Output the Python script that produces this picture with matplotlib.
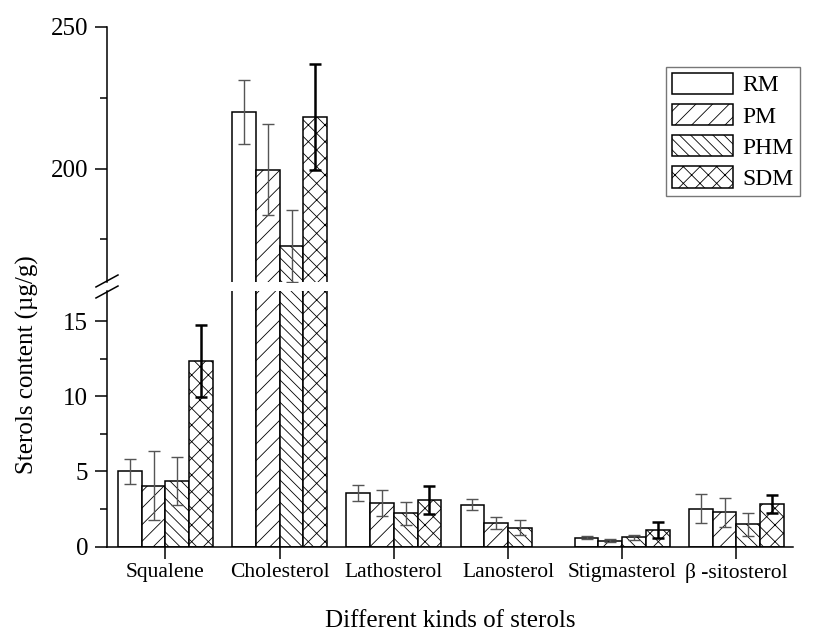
import matplotlib
matplotlib.use("Agg")
import matplotlib.pyplot as plt
from matplotlib.lines import Line2D
import numpy as np

plt.rcParams['font.family'] = ['Liberation Serif', 'DejaVu Serif']
plt.rcParams['hatch.linewidth'] = 0.6

# data (SDM has no lanosterol bar)
sterols = ["Squalene", "Cholesterol", "Lathosterol", "Lanosterol", "Stigmasterol", "β -sitosterol"]
groups = ["RM", "PM", "PHM", "SDM"]

rm = [5.0, 219.9, 3.56, 2.80, 0.60, 2.53]
pm = [4.05, 199.6, 2.89, 1.60, 0.38, 2.29]
phm = [4.38, 172.7, 2.22, 1.27, 0.62, 1.49]
sdm = [12.33, 218.2, 3.11, np.nan, 1.11, 2.84]

rm_err = [0.8, 11.3, 0.55, 0.35, 0.10, 0.95]
pm_err = [2.3, 16.0, 0.87, 0.40, 0.10, 0.95]
phm_err = [1.6, 12.8, 0.75, 0.50, 0.15, 0.75]
sdm_err = [2.4, 18.6, 0.92, np.nan, 0.55, 0.60]

values = [rm, pm, phm, sdm]
errors = [rm_err, pm_err, phm_err, sdm_err]
hatches = ["", "//", "\\\\\\", "xx"]
err_colors = ["#555555", "#555555", "#555555", "black"]
err_widths = [1.0, 1.0, 1.0, 1.8]

x = np.arange(1, len(sterols) + 1)
w = 0.208

fig = plt.figure(figsize=(8.28, 6.37), dpi=100)
ax_top = fig.add_axes([0.1292, 0.5573, 0.8285, 0.4008])
ax_bot = fig.add_axes([0.1292, 0.1418, 0.8285, 0.4014])

handles = []
for ax in (ax_top, ax_bot):
    for i in range(4):
        pos = x + (i - 1.5) * w
        b = ax.bar(pos, values[i], w, color="white", edgecolor="black",
                   linewidth=1.1, hatch=hatches[i], label=groups[i], zorder=2)
        ax.errorbar(pos, values[i], yerr=errors[i], fmt="none", ecolor=err_colors[i],
                    elinewidth=err_widths[i], capsize=4, capthick=err_widths[i], zorder=3)
        if ax is ax_bot:
            handles.append(b)
    ax.set_xlim(0.488, 6.495)
    ax.spines["top"].set_visible(False)
    ax.spines["right"].set_visible(False)
    for s in ax.spines.values():
        s.set_linewidth(1.1)
    ax.tick_params(axis="both", which="major", direction="out", length=8.5, width=1.1, pad=5)
    ax.tick_params(axis="y", labelsize=18)
    ax.tick_params(axis="y", which="minor", direction="out", length=5, width=1.1)

# top part
ax_top.set_ylim(160, 250)
ax_top.spines["bottom"].set_visible(False)
ax_top.set_xticks([])
ax_top.set_yticks([200, 250])
ax_top.set_yticks([175, 225], minor=True)

# bottom part
ax_bot.set_ylim(0, 17)
ax_bot.set_yticks([0, 5, 10, 15])
ax_bot.set_yticks([2.5, 7.5, 12.5], minor=True)
ax_bot.set_xticks(x)
ax_bot.set_xticklabels(sterols)
ax_bot.tick_params(axis="x", pad=3, labelsize=15.5)
ax_bot.set_xlabel("Different kinds of sterols", fontsize=18, labelpad=20)

fig.text(0.033, 0.427, "Sterols content (µg/g)", rotation=90, fontsize=18,
         ha="center", va="center")

# break marks on the y axis
fig.add_artist(Line2D([0.1159, 0.1425], [0.5495, 0.5683], color="black", lw=1.1))
fig.add_artist(Line2D([0.1159, 0.1425], [0.5322, 0.5510], color="black", lw=1.1))

leg = ax_top.legend(handles=handles, labels=groups, loc="upper right",
                    bbox_to_anchor=(0.966, 0.895), bbox_transform=fig.transFigure,
                    fontsize=17, handlelength=2.6, handleheight=1.0, labelspacing=0.32,
                    handletextpad=0.4, borderpad=0.25, borderaxespad=0, fancybox=False)
leg.get_frame().set_edgecolor("#555555")
leg.get_frame().set_linewidth(1.0)

fig.savefig("out.png", dpi=100)
